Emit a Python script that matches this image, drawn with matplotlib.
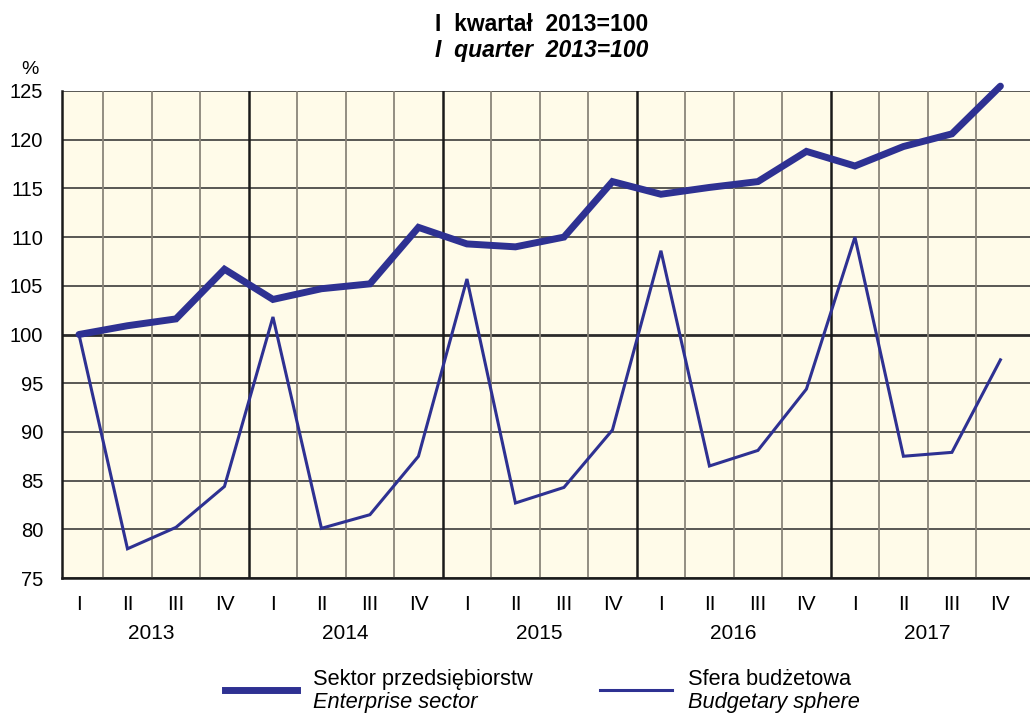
import matplotlib.pyplot as plt
from matplotlib.lines import Line2D

plt.rcParams['font.family'] = ['Liberation Sans', 'DejaVu Sans']

# dane kwartalne, I kwartał 2013 = 100
lata = ['2013', '2014', '2015', '2016', '2017']
kwartaly = ['I', 'II', 'III', 'IV']
sektor_przedsiebiorstw = [100.0, 100.9, 101.6, 106.7,
                          103.6, 104.7, 105.2, 111.0,
                          109.3, 109.0, 110.0, 115.7,
                          114.4, 115.1, 115.7, 118.8,
                          117.3, 119.3, 120.6, 125.5]
sfera_budzetowa = [100.0, 78.0, 80.2, 84.4,
                   101.8, 80.1, 81.5, 87.5,
                   105.7, 82.7, 84.3, 90.2,
                   108.6, 86.5, 88.1, 94.4,
                   110.0, 87.5, 87.9, 97.4]
y_ticks = list(range(75, 126, 5))

kolor = '#2e3192'
x = list(range(len(sektor_przedsiebiorstw)))
W, H = 1030, 713
fs = 15

fig = plt.figure(figsize=(W / 100, H / 100), dpi=100)
ax = fig.add_axes([62 / W, 1 - 578 / H, 968 / W, 487 / H])
ax.set_facecolor('#fffbe9')
ax.set_xlim(-0.35, 19.61)
ax.set_ylim(75, 125)

# siatka pozioma
for v in y_ticks:
    ax.axhline(v, color='#2b2b2b', lw=2.0 if v == 100 else 1.1, zorder=1)
# siatka pionowa: kwartały szare, granice lat czarne
for i in range(len(x) - 1):
    if (i + 1) % 4 == 0:
        ax.axvline(i + 0.5, color='#1a1a1a', lw=1.8, zorder=1)
    else:
        ax.axvline(i + 0.5, color='#8a857a', lw=1.3, zorder=1)

ax.plot(x, sektor_przedsiebiorstw, color=kolor, lw=5, solid_capstyle='round',
        solid_joinstyle='miter', zorder=3, clip_on=False)
ax.plot(x, sfera_budzetowa, color=kolor, lw=2.2, solid_joinstyle='miter', zorder=3)

for s in ['top', 'right']:
    ax.spines[s].set_visible(False)
for s in ['left', 'bottom']:
    ax.spines[s].set_linewidth(1.8)
    ax.spines[s].set_color('#1a1a1a')

ax.set_yticks(y_ticks)
ax.set_yticklabels([str(v) for v in y_ticks], fontsize=14.5)
ax.tick_params(axis='y', length=0, pad=13.5)
ax.set_xticks(x)
ax.set_xticklabels(kwartaly * len(lata), fontsize=fs)
ax.tick_params(axis='x', length=0, pad=12.5)

for j, rok in enumerate(lata):
    ax.text(j * 4 + 1.5, (578 - 639) / 487, rok, ha='center', va='baseline',
            fontsize=fs, transform=ax.get_xaxis_transform(), clip_on=False)

fig.text(30 / W, 1 - 74 / H, '%', ha='center', va='baseline', fontsize=14)
fig.text(542 / W, 1 - 31 / H, 'I  kwartał  2013=100', ha='center',
         va='baseline', fontsize=16.5, fontweight='bold')
fig.text(542 / W, 1 - 57 / H, 'I  quarter  2013=100', ha='center',
         va='baseline', fontsize=16.5, fontweight='bold', style='italic')

# legenda
fig.add_artist(Line2D([225 / W, 297 / W], [1 - 690 / H] * 2, color=kolor, lw=5))
fig.add_artist(Line2D([600 / W, 672 / W], [1 - 690 / H] * 2, color=kolor, lw=2.2))
fig.text(313 / W, 1 - 685 / H, 'Sektor przedsiębiorstw', va='baseline', fontsize=15.7)
fig.text(313 / W, 1 - 708 / H, 'Enterprise sector', va='baseline', fontsize=15.7,
         style='italic')
fig.text(688 / W, 1 - 685 / H, 'Sfera budżetowa', va='baseline', fontsize=15.7)
fig.text(688 / W, 1 - 708 / H, 'Budgetary sphere', va='baseline', fontsize=15.7,
         style='italic')

fig.savefig('out.png', dpi=100)
